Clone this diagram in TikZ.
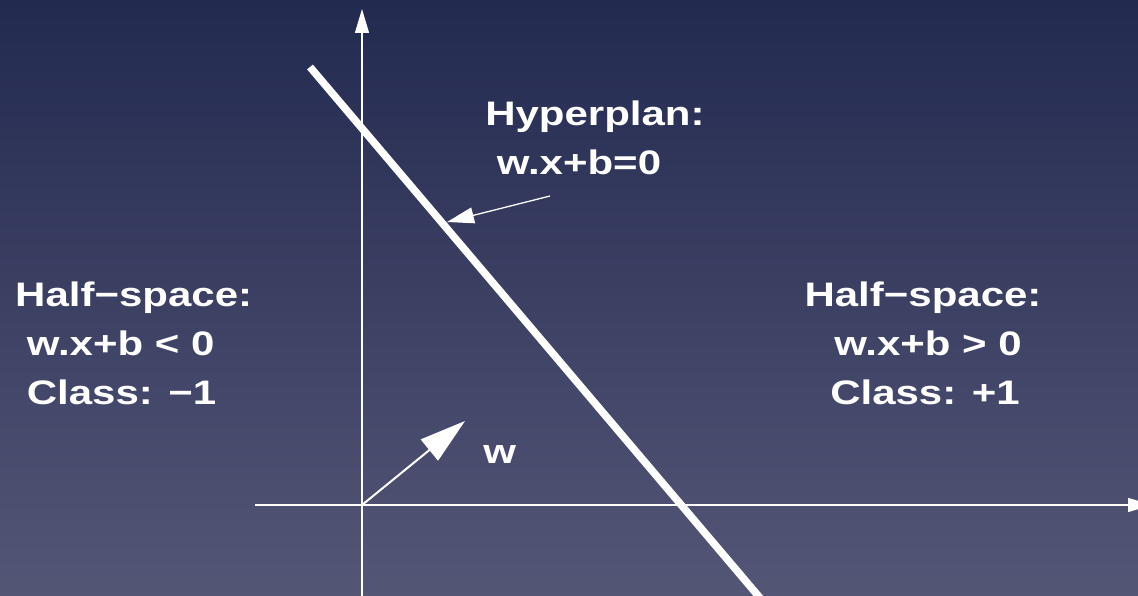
\documentclass[tikz,border=0pt]{standalone}
\usepackage{fontspec}
\setmainfont{Liberation Sans}
\usetikzlibrary{arrows.meta}
\definecolor{bgtop}{RGB}{35,42,80}
\definecolor{bgbot}{RGB}{84,86,118}
\tikzset{
  lbl/.style={text=white, font=\bfseries\fontsize{34}{49}\selectfont, inner sep=0pt, anchor=base west, xscale=1.235},
  axis/.style={draw=white, line width=1.4pt, -{Triangle[length=24pt,width=14pt]}},
  plane/.style={draw=white, line width=7.5pt},
  wvec/.style={draw=white, line width=2pt, -{Triangle[length=46pt,width=27pt]}},
  pointer/.style={draw=white, line width=1.3pt, -{Triangle[length=27pt,width=16pt]}},
}
\begin{document}
\begin{tikzpicture}[x=1pt,y=-1pt]
\shade[top color=bgtop, bottom color=bgbot] (0,0) rectangle (1138,596);
\useasboundingbox (0,0) rectangle (1138,596);
\clip (0,0) rectangle (1138,596);
\coordinate (o) at (362,505);
\coordinate (ytop) at (362,9);
\coordinate (ybot) at (362,600);
\coordinate (xl) at (255,505);
\coordinate (xr) at (1152,505);
\draw[axis] (ybot) -- (ytop);
\draw[axis] (xl) -- (xr);
\coordinate (p1) at (310,67);
\coordinate (p2) at (766,605);
\draw[plane] (p1) -- (p2);
\coordinate (wtip) at (465,421);
\draw[wvec] (o) -- (wtip);
\coordinate (hs) at (550,196);
\coordinate (ht) at (447,222);
\draw[pointer] (hs) -- (ht);
\node[lbl] (left) at (15,306) {Half\textminus space:};
\node[lbl] (left2) at (15,355) {\ w.x+b < 0};
\node[lbl] (left3) at (15,404) {\ Class: \textminus 1};
\node[lbl] (hyp) at (485,126) {Hyperplan:};
\node[lbl] (hyp2) at (485,175) {\ w.x+b=0};
\node[lbl, anchor=base] (right) at (923,306) {Half\textminus space:};
\node[lbl, anchor=base] (right2) at (928,355) {w.x+b > 0};
\node[lbl, anchor=base] (right3) at (925,404) {Class: +1};
\node[lbl] (w) at (483,463) {w};
\end{tikzpicture}
\end{document}
